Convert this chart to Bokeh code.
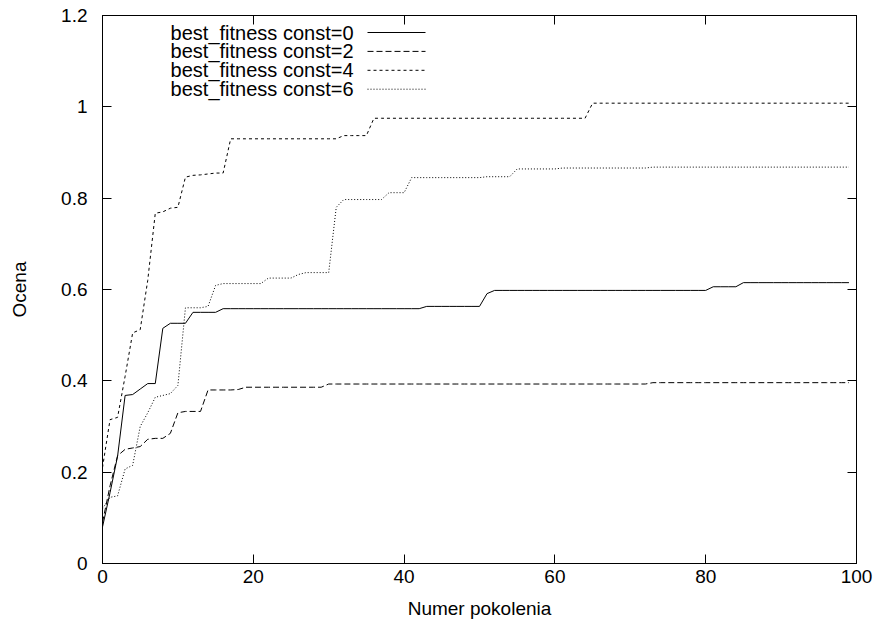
from bokeh.plotting import figure
from bokeh.models import (Range1d, LinearAxis, FixedTicker, CustomJSTickFormatter,
                          Label, Arrow, ColumnDataSource)
from bokeh.embed import file_html
from bokeh.resources import INLINE

# ---------------- data ----------------
generations = list(range(100))

const0 = ([0.08, 0.155, 0.235, 0.368, 0.370, 0.382, 0.394, 0.394, 0.515, 0.526,
           0.526, 0.526, 0.550, 0.550, 0.550, 0.550, 0.558]
          + [0.558] * 26 + [0.563] * 8 + [0.591] + [0.598] * 29
          + [0.606] * 4 + [0.615] * 15)

const2 = ([0.09, 0.17, 0.236, 0.250, 0.253, 0.256, 0.272, 0.274, 0.274, 0.285,
           0.330, 0.333, 0.333, 0.333, 0.380, 0.380, 0.380, 0.380, 0.381]
          + [0.386] * 11 + [0.393] * 43 + [0.396] * 27)

const4 = ([0.21, 0.315, 0.320, 0.410, 0.505, 0.512, 0.620, 0.767, 0.770, 0.778,
           0.780, 0.846, 0.850, 0.851, 0.853, 0.855, 0.855]
          + [0.930] * 15 + [0.937] * 4 + [0.975] * 29 + [1.008] * 35)

const6 = ([0.12, 0.145, 0.148, 0.207, 0.215, 0.300, 0.330, 0.364, 0.368, 0.372,
           0.390, 0.560, 0.560, 0.560, 0.563, 0.609, 0.613]
          + [0.613] * 5 + [0.625] * 4 + [0.633] + [0.637] * 4 + [0.780]
          + [0.797] * 6 + [0.812] * 3 + [0.845] * 10 + [0.847] * 4
          + [0.864] * 6 + [0.866] * 12 + [0.868] * 27)

series_labels = ["best_fitness const=0", "best_fitness const=2",
                 "best_fitness const=4", "best_fitness const=6"]
x_ticks = [0, 20, 40, 60, 80, 100]
y_ticks = [0, 0.2, 0.4, 0.6, 0.8, 1.0, 1.2]

# ---------------- styling ----------------
FONT = "Liberation Sans"
FS = "19px"
KEY_FS = "20px"
dashes = ["solid", "6 3", "3 3", "1 2"]
series = [const0, const2, const4, const6]

p = figure(width=878, height=626, output_backend="svg", toolbar_location=None,
           x_range=Range1d(0, 100), y_range=Range1d(0, 1.2),
           min_border_left=102, min_border_right=22,
           min_border_top=15, min_border_bottom=63,
           x_axis_label="Numer pokolenia", y_axis_label="Ocena")
p.background_fill_color = "white"
p.border_fill_color = "white"
p.outline_line_color = "black"
p.outline_line_width = 1
p.xgrid.visible = False
p.ygrid.visible = False

fmt_y = CustomJSTickFormatter(code="return Number(tick.toFixed(1)).toString();")

for ax in p.xaxis:
    ax.ticker = FixedTicker(ticks=x_ticks)
    ax.axis_label_standoff = 12
for ax in p.yaxis:
    ax.ticker = FixedTicker(ticks=y_ticks)
    ax.formatter = fmt_y
    ax.axis_label_standoff = 28

for ax in p.xaxis + p.yaxis:
    ax.major_tick_in = 9
    ax.major_tick_out = 0
    ax.minor_tick_line_color = None
    ax.major_label_text_font = FONT
    ax.major_label_text_font_size = FS
    ax.major_label_text_color = "black"
    ax.axis_label_text_font = FONT
    ax.axis_label_text_font_size = FS
    ax.axis_label_text_font_style = "normal"
    ax.axis_label_text_color = "black"
    ax.axis_line_color = "black"
    ax.major_tick_line_color = "black"
p.xaxis.major_label_standoff = 6
p.yaxis.major_label_standoff = 15

blank = CustomJSTickFormatter(code="return '';")
top = LinearAxis(ticker=FixedTicker(ticks=x_ticks), formatter=blank)
right = LinearAxis(ticker=FixedTicker(ticks=y_ticks), formatter=blank)
for ax in (top, right):
    ax.major_tick_in = 9
    ax.major_tick_out = 0
    ax.minor_tick_line_color = None
    ax.major_label_standoff = 0
    ax.axis_line_color = "black"
    ax.major_tick_line_color = "black"
p.add_layout(top, "above")
p.add_layout(right, "right")

for vals, dash in zip(series, dashes):
    src = ColumnDataSource(dict(x=generations, y=vals))
    p.line("x", "y", source=src, line_color="black", line_width=1,
           line_dash=dash)

# gnuplot-style key: label right-aligned, sample line to its right
key_text_right = 251
key_line_x0, key_line_x1 = 265, 323
key_y0, key_dy = 531, 18.9
for i, (lab, dash) in enumerate(zip(series_labels, dashes)):
    yy = key_y0 - i * key_dy
    p.add_layout(Label(x=key_text_right, y=yy, x_units="screen", y_units="screen",
                       text=lab, text_font=FONT, text_font_size=KEY_FS,
                       text_align="right", text_baseline="middle",
                       text_color="black"))
    p.add_layout(Arrow(end=None, start=None, x_start=key_line_x0, y_start=yy,
                       x_end=key_line_x1, y_end=yy, start_units="screen",
                       end_units="screen", line_color="black", line_width=1,
                       line_dash=dash))

open("out.html", "w").write(file_html(p, INLINE))
